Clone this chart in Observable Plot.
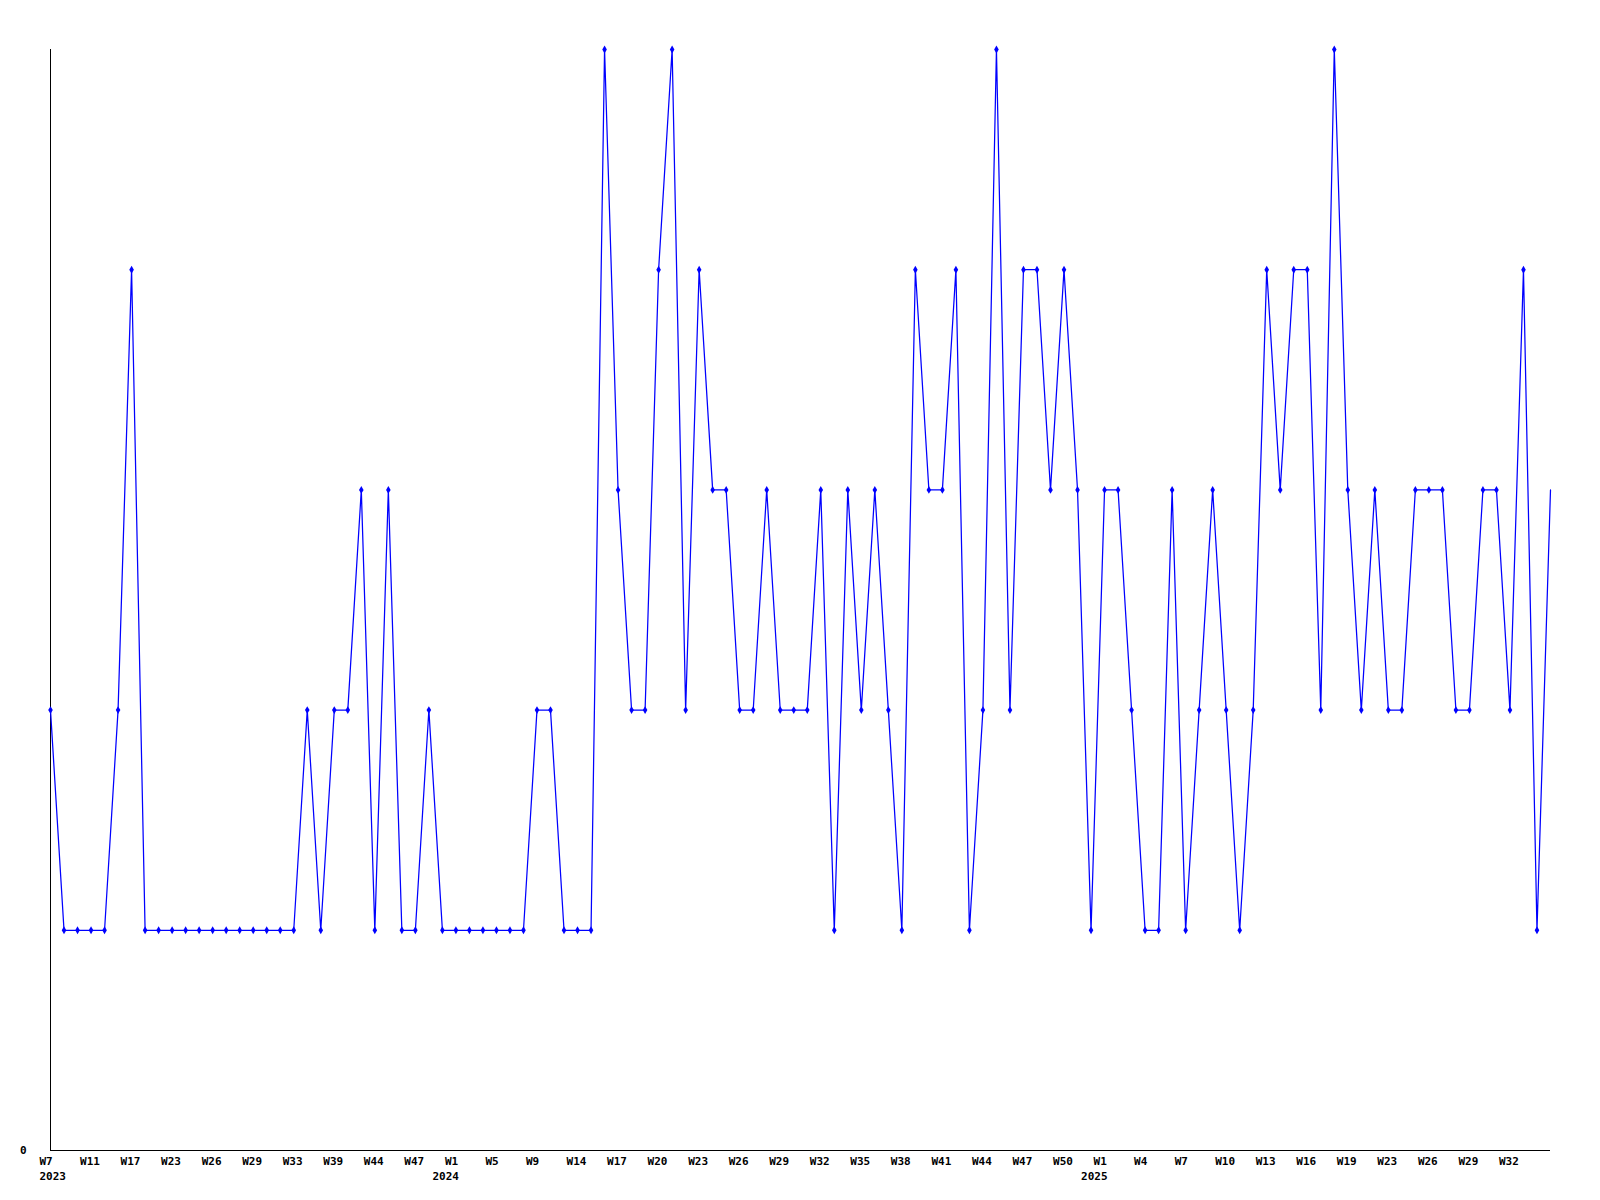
<!DOCTYPE html>
<html>
<head>
<meta charset="utf-8">
<script src="https://cdn.jsdelivr.net/npm/d3@7"></script>
<script src="https://cdn.jsdelivr.net/npm/@observablehq/plot@0.6"></script>
<style>
  html, body { margin: 0; padding: 0; background: #ffffff; }
  #chart svg { display: block; }
</style>
</head>
<body>
<div id="chart"></div>
<script>
// Weekly values (one point per period)
const values = [
  2, 1, 1, 1, 1, 2, 4, 1, 1, 1,
  1, 1, 1, 1, 1, 1, 1, 1, 1, 2,
  1, 2, 2, 3, 1, 3, 1, 1, 2, 1,
  1, 1, 1, 1, 1, 1, 2, 2, 1, 1,
  1, 5, 3, 2, 2, 4, 5, 2, 4, 3,
  3, 2, 2, 3, 2, 2, 2, 3, 1, 3,
  2, 3, 2, 1, 4, 3, 3, 4, 1, 2,
  5, 2, 4, 4, 3, 4, 3, 1, 3, 3,
  2, 1, 1, 3, 1, 2, 3, 2, 1, 2,
  4, 3, 4, 4, 2, 5, 3, 2, 3, 2,
  2, 3, 3, 3, 2, 2, 3, 3, 2, 4,
  1, 3
];

// Tick labels, one every third point
const tickLabels = [
  "W7", "W11", "W17", "W23", "W26", "W29", "W33", "W39", "W44", "W47",
  "W1", "W5", "W9", "W14", "W17", "W20", "W23", "W26", "W29", "W32",
  "W35", "W38", "W41", "W44", "W47", "W50",
  "W1", "W4", "W7", "W10", "W13", "W16", "W19", "W23", "W26", "W29", "W32"
];
const tickStep = 3;

// Year labels and the point index they sit under
const yearLabels = ["2023", "2024", "2025"];
const yearIndex = [0, 30, 78];

const yTickLabels = ["0"];

const data = values.map((v, i) => ({ i, v }));
const ticks = tickLabels.map((t, k) => ({ i: k * tickStep, t }));
const years = yearLabels.map((t, k) => ({ i: yearIndex[k], t }));

const font = "DejaVu Sans Mono";

const chart = Plot.plot({
  width: 1600,
  height: 1200,
  marginLeft: 50,
  marginRight: 50,
  marginTop: 49,
  marginBottom: 50,
  x: { type: "linear", domain: [0, values.length - 1], axis: null },
  y: { type: "linear", domain: [0, 5], axis: null },
  style: { background: "#ffffff", color: "#000000", fontFamily: font },
  marks: [
    Plot.ruleX([0], { stroke: "#000000", strokeWidth: 1 }),
    Plot.ruleY([0], { stroke: "#000000", strokeWidth: 1 }),
    Plot.line(data, { x: "i", y: "v", stroke: "#0000ff", strokeWidth: 1.25 }),
    Plot.dot(data.slice(0, -1), { x: "i", y: "v", symbol: "diamond", r: 2.4, fill: "#0000ff", stroke: "none" }),
    Plot.text(ticks, {
      x: "i", y: () => 0, text: "t",
      textAnchor: "start", dx: -11, dy: 11,
      fontFamily: font, fontSize: 11, fontWeight: "bold", fill: "#000000"
    }),
    Plot.text(years.slice(0, 1), {
      x: "i", y: () => 0, text: "t",
      textAnchor: "start", dx: -11, dy: 26,
      fontFamily: font, fontSize: 11, fontWeight: "bold", fill: "#000000"
    }),
    Plot.text(years.slice(1), {
      x: "i", y: () => 0, text: "t",
      textAnchor: "end", dx: 3, dy: 26,
      fontFamily: font, fontSize: 11, fontWeight: "bold", fill: "#000000"
    }),
    Plot.text(yTickLabels, {
      x: () => 0, y: d => +d, text: d => d,
      textAnchor: "end", dx: -24, dy: 0,
      fontFamily: font, fontSize: 11, fontWeight: "bold", fill: "#000000"
    })
  ]
});

document.getElementById("chart").appendChild(chart);
</script>
</body>
</html>
